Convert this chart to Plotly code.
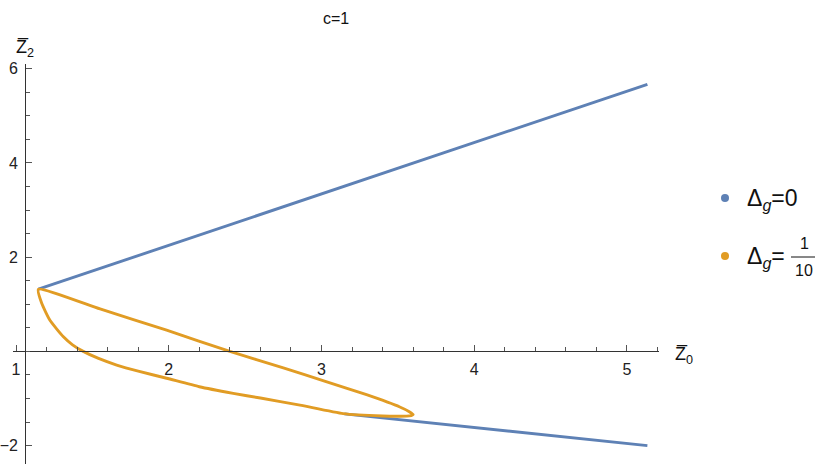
import plotly.graph_objects as go

# Delta_g = 0 : two straight branches
z0_dg0_upper = [1.146, 5.134]
z2_dg0_upper = [1.32, 5.67]
z0_dg0_lower = [3.15, 5.134]
z2_dg0_lower = [-1.325, -2.0]

# Delta_g = 1/10 : closed loop (cusp -> upper edge -> tip -> lower edge -> cusp)
z0_dg1 = [1.146, 1.55, 1.986, 2.40, 2.75, 3.03, 3.295, 3.513, 3.575, 3.60,
          3.575, 3.513, 3.40, 3.142, 2.859, 2.6, 2.422, 2.2, 1.986, 1.80,
          1.659, 1.54, 1.44, 1.37, 1.31, 1.222, 1.168, 1.146]
z2_dg1 = [1.32, 0.90, 0.45, 0.0, -0.35, -0.64, -0.92, -1.18, -1.28, -1.34,
          -1.37, -1.375, -1.37, -1.32, -1.14, -0.99, -0.89, -0.75, -0.57, -0.42,
          -0.29, -0.15, 0.0, 0.14, 0.31, 0.66, 1.02, 1.32]

x_ticks = [1, 2, 3, 4, 5]
y_ticks = [-2, 2, 4, 6]
x_range = [0.98, 5.21]
y_range = [-2.39, 6.1]
y_axis_at = 1.06

blue = "#5E81B5"
orange = "#E19C24"
font = "Liberation Sans, Arial, sans-serif"

W, H = 830, 469
ml, mt, pw, ph = 13, 64, 646, 400


def xp(p):
    return (p - ml) / pw


def yp(p):
    return 1 - (p - mt) / ph


fig = go.Figure()
fig.add_trace(go.Scatter(
    x=z0_dg0_upper + [None] + z0_dg0_lower,
    y=z2_dg0_upper + [None] + z2_dg0_lower,
    mode="lines", line=dict(color=blue, width=2.9), showlegend=False,
))
fig.add_trace(go.Scatter(
    x=z0_dg1, y=z2_dg1, mode="lines",
    line=dict(color=orange, width=2.9, shape="spline", smoothing=0.5),
    showlegend=False,
))

axis_common = dict(
    showgrid=False, zeroline=False, showline=True, linecolor="#333",
    linewidth=1, ticks="inside", ticklen=6, tickcolor="#555", tickwidth=1,
    tickfont=dict(family=font, size=16, color="#222"), anchor="free",
    automargin=False,
)

fig.update_xaxes(
    range=x_range, tickvals=x_ticks, position=(0 - y_range[0]) / (y_range[1] - y_range[0]),
    minor=dict(ticks="inside", ticklen=4, tickcolor="#555", dtick=0.2, tick0=0),
    ticklabelstandoff=3, **axis_common,
)
fig.update_yaxes(
    range=y_range, tickvals=y_ticks, position=(y_axis_at - x_range[0]) / (x_range[1] - x_range[0]),
    minor=dict(ticks="inside", ticklen=4, tickcolor="#555", dtick=0.5, tick0=0),
    ticklabelstandoff=4, **axis_common,
)

ann = []
ann.append(dict(x=xp(336), y=yp(18), text="c=1", font=dict(size=16)))
ann.append(dict(x=xp(25), y=yp(49), text="Z\u0305<sub>2</sub>", font=dict(size=18)))
ann.append(dict(x=xp(684), y=yp(355), text="Z\u0305<sub>0</sub>", font=dict(size=18)))
# legend
ann.append(dict(x=xp(745), y=yp(199), xanchor="left",
                text="\u0394<sub><i>g</i></sub>=0", font=dict(size=23)))
ann.append(dict(x=xp(745), y=yp(257), xanchor="left",
                text="\u0394<sub><i>g</i></sub>=", font=dict(size=23)))
ann.append(dict(x=xp(804), y=yp(243), text="1", font=dict(size=16)))
ann.append(dict(x=xp(804), y=yp(270), text="10", font=dict(size=16)))
for a in ann:
    a.update(xref="paper", yref="paper", showarrow=False)
    a["font"].update(family=font, color="#111")
    a.setdefault("xanchor", "center")
    a.setdefault("yanchor", "middle")

shapes = [
    dict(type="circle", xref="paper", yref="paper", x0=xp(721), x1=xp(729),
         y0=yp(202), y1=yp(194), fillcolor=blue, line=dict(width=0)),
    dict(type="circle", xref="paper", yref="paper", x0=xp(721), x1=xp(729),
         y0=yp(260), y1=yp(252), fillcolor=orange, line=dict(width=0)),
    dict(type="line", xref="paper", yref="paper", x0=xp(791), x1=xp(815),
         y0=yp(257), y1=yp(257), line=dict(color="#111", width=1)),
]

fig.update_layout(
    width=W, height=H, margin=dict(l=ml, r=W - ml - pw, t=mt, b=H - mt - ph),
    plot_bgcolor="white", paper_bgcolor="white",
    annotations=ann, shapes=shapes, showlegend=False,
    font=dict(family=font),
)

fig.write_html("out.html", config={"displayModeBar": False},
               post_script="document.body.style.margin='0';")
